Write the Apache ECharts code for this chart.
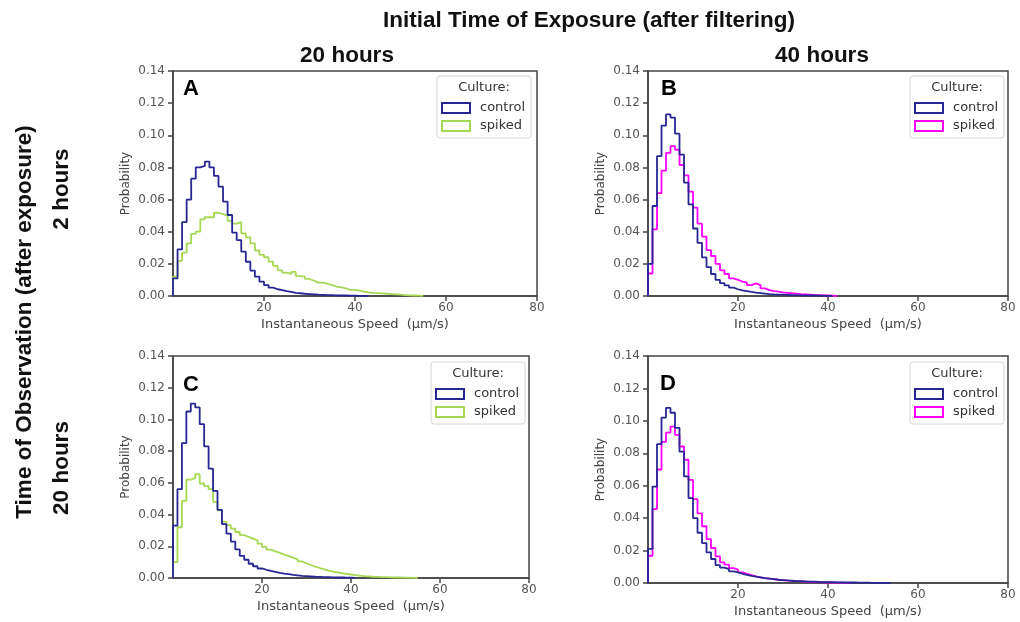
<!DOCTYPE html>
<html>
<head>
<meta charset="utf-8">
<script src="https://cdn.jsdelivr.net/npm/echarts@6/dist/echarts.min.js"></script>
<style>
html,body{margin:0;padding:0;background:#fff;}
#chart{width:1020px;height:622px;}
</style>
</head>
<body>
<div id="chart"></div>
<script>
// ---- data (bin width 1 µm/s, bins start at 0) ----
const binWidth = 1;
const xTickValues = [20, 40, 60, 80];
const panelLetters = ['A', 'B', 'C', 'D'];
const legendTitle = 'Culture:';
const seriesLabels = ['control', 'spiked'];

const controlA = [0.011,0.029,0.046,0.060,0.073,0.080,0.081,0.0836,0.080,0.0747,0.068,0.0587,0.0504,0.0394,0.0348,0.0276,0.0213,0.0158,0.012,0.0089,0.0068,0.0052,0.0042,0.0037,0.003,0.0025,0.002,0.0017,0.0014,0.0012,0.001,0.0008,0.0007,0.0006,0.0005,0.0004,0.0003,0.0003,0.0002,0.0002,0.0001,0.0001,0.0001];
const spikedA = [0.012,0.0218,0.027,0.0328,0.0386,0.040,0.0477,0.049,0.049,0.0518,0.051,0.050,0.0467,0.045,0.046,0.039,0.0365,0.0328,0.0283,0.0256,0.0241,0.0214,0.0187,0.016,0.0145,0.0137,0.015,0.0124,0.012,0.0106,0.0095,0.0083,0.0083,0.0075,0.0068,0.0058,0.0054,0.0048,0.0037,0.004,0.0033,0.0027,0.0023,0.002,0.0018,0.0016,0.0014,0.0012,0.001,0.0008,0.0006,0.0004,0.0003,0.0002,0.0001];
const controlB = [0.020,0.056,0.087,0.106,0.113,0.111,0.101,0.088,0.0705,0.057,0.042,0.033,0.024,0.018,0.0137,0.010,0.008,0.0066,0.0052,0.0042,0.0035,0.003,0.0025,0.0021,0.0018,0.0015,0.0012,0.001,0.0009,0.0008,0.0007,0.0006,0.0005,0.0004,0.0004,0.0003,0.0003,0.0002,0.0002,0.0001,0.0001];
const spikedB = [0.014,0.0415,0.064,0.078,0.089,0.0933,0.091,0.0815,0.075,0.065,0.055,0.045,0.037,0.0286,0.0249,0.020,0.016,0.0137,0.011,0.010,0.0089,0.0083,0.0068,0.0079,0.0068,0.0047,0.0037,0.003,0.0027,0.0023,0.002,0.0017,0.0015,0.0012,0.001,0.0008,0.0006,0.0005,0.0004,0.0003,0.0002,0.0001];
const controlC = [0.033,0.056,0.085,0.105,0.110,0.1076,0.097,0.083,0.069,0.055,0.043,0.034,0.028,0.023,0.018,0.014,0.0115,0.009,0.0074,0.006,0.0052,0.0045,0.0039,0.0033,0.0028,0.0024,0.002,0.0017,0.0014,0.0012,0.001,0.0008,0.0007,0.0006,0.0005,0.0004,0.0003,0.0003,0.0002,0.0002,0.0001];
const spikedC = [0.010,0.032,0.0486,0.062,0.063,0.0655,0.0596,0.058,0.056,0.048,0.0427,0.0354,0.0333,0.0312,0.029,0.027,0.0259,0.0248,0.0238,0.0217,0.0196,0.0179,0.0168,0.0158,0.0148,0.0138,0.0128,0.0118,0.0105,0.0093,0.0082,0.0072,0.0063,0.0055,0.0047,0.0040,0.0035,0.0030,0.0026,0.0022,0.0018,0.0015,0.0012,0.0010,0.0008,0.0007,0.0006,0.0005,0.0004,0.0003,0.0003,0.0002,0.0002,0.0001,0.0001];
const controlD = [0.021,0.0595,0.0856,0.102,0.108,0.105,0.0957,0.081,0.0657,0.0523,0.040,0.031,0.0246,0.0189,0.0148,0.011,0.0095,0.0085,0.0072,0.0066,0.0057,0.005,0.0044,0.0039,0.0035,0.003,0.0027,0.0024,0.002,0.0018,0.0016,0.0014,0.0012,0.0011,0.001,0.0009,0.0008,0.0007,0.0006,0.0005,0.0005,0.0004,0.0004,0.0003,0.0003,0.0003,0.0002,0.0002,0.0002,0.0001,0.0001,0.0001,0.0001,0.0001];
const spikedD = [0.0168,0.0456,0.070,0.087,0.0928,0.0965,0.0913,0.0842,0.076,0.0636,0.0517,0.043,0.035,0.027,0.0216,0.0164,0.0127,0.0113,0.0092,0.0082,0.0066,0.0056,0.0048,0.0041,0.0035,0.003,0.0027,0.0024,0.002,0.0018,0.0015,0.0013,0.0011,0.001,0.0008,0.0007,0.0006,0.0005,0.0004,0.0003,0.0003,0.0002,0.0002,0.0001,0.0001];

const panelData = [
  [controlA, spikedA],
  [controlB, spikedB],
  [controlC, spikedC],
  [controlD, spikedD]
];

// ---- styling / layout ----
const BLUE = '#272793';
const GREEN = '#a6d854';
const MAGENTA = '#ff00ff';
const panelColors = [[BLUE, GREEN], [BLUE, MAGENTA], [BLUE, GREEN], [BLUE, MAGENTA]];
const grids = [
  {left: 173, top: 71, width: 364, height: 225},
  {left: 648, top: 71, width: 360, height: 225},
  {left: 173, top: 356, width: 356, height: 222},
  {left: 648, top: 356, width: 360, height: 227}
];
const legendPos = [
  {left: 437, top: 76},
  {left: 910, top: 76},
  {left: 431, top: 362},
  {left: 910, top: 362}
];
const letterPos = [[183, 89], [661, 89], [183, 385], [660, 384]];

const AX = '#444';
const TICKFONT = 'DejaVu Sans';
const BOLDFONT = '"Liberation Sans", Arial, sans-serif';
const HEAD = 22.5;

function stepData(vals) {
  const d = [[0, 0]];
  vals.forEach((v, i) => d.push([i * binWidth, v]));
  d.push([vals.length * binWidth, 0]);
  return d;
}

const xAxes = [], yAxes = [], series = [], legends = [], graphics = [];
grids.forEach((g, k) => {
  xAxes.push({
    type: 'value', gridIndex: k, min: 0, max: 80, interval: 20,
    name: 'Instantaneous Speed  (µm/s)', nameLocation: 'middle', nameGap: 22,
    nameTextStyle: {fontFamily: TICKFONT, fontSize: 13, color: AX},
    axisLine: {show: true, lineStyle: {color: AX, width: 1.5}},
    axisTick: {show: true, length: 5, lineStyle: {color: AX, width: 1.5}, customValues: xTickValues},
    axisLabel: {fontFamily: TICKFONT, fontSize: 12, color: '#555', margin: 6, customValues: xTickValues},
    splitLine: {show: false}
  });
  yAxes.push({
    type: 'value', gridIndex: k, min: 0, max: 0.14, interval: 0.02,
    name: 'Probability', nameLocation: 'middle', nameGap: 41,
    nameTextStyle: {fontFamily: TICKFONT, fontSize: 12, color: AX},
    axisLine: {show: true, lineStyle: {color: AX, width: 1.5}},
    axisTick: {show: true, length: 5, lineStyle: {color: AX, width: 1.5}},
    axisLabel: {fontFamily: TICKFONT, fontSize: 12, color: '#555', margin: 8,
      formatter: v => v.toFixed(2)},
    splitLine: {show: false}
  });
  const names = [];
  panelData[k].forEach((vals, j) => {
    const nm = seriesLabels[j] + '_' + panelLetters[k];
    names.push({name: nm, icon: 'rect',
      itemStyle: {color: '#fff', borderColor: panelColors[k][j], borderWidth: 2}});
    series.push({
      name: nm, type: 'line', xAxisIndex: k, yAxisIndex: k,
      step: 'end', symbol: 'none', silent: true, animation: false,
      data: stepData(vals),
      lineStyle: {color: panelColors[k][j], width: 1.8},
      itemStyle: {color: panelColors[k][j]},
      z: j === 0 ? 3 : 2
    });
  });
  legends.push({
    orient: 'vertical', left: legendPos[k].left, top: legendPos[k].top,
    data: names, itemWidth: 28, itemHeight: 10, itemGap: 4,
    padding: [25, 6, 5, 4],
    borderColor: '#d6d6d6', borderWidth: 1, borderRadius: 3,
    backgroundColor: 'rgba(255,255,255,0.85)',
    textStyle: {fontFamily: TICKFONT, fontSize: 13, color: '#333', lineHeight: 14, padding: [0, 0, 0, 5]},
    formatter: n => n.split('_')[0],
    selectedMode: false
  });
  graphics.push({
    type: 'text', x: legendPos[k].left + 47, y: legendPos[k].top + 12,
    style: {text: legendTitle, fontFamily: TICKFONT, fontSize: 13, fill: '#333',
      textAlign: 'center', textVerticalAlign: 'middle'},
    z: 100
  });
  graphics.push({
    type: 'text', x: letterPos[k][0], y: letterPos[k][1],
    style: {text: panelLetters[k], fontFamily: BOLDFONT, fontWeight: 'bold', fontSize: 22, fill: '#000',
      textAlign: 'left', textVerticalAlign: 'middle'},
    z: 100
  });
});

// headings
function heading(text, x, y, rot) {
  graphics.push({type: 'text', x: x, y: y, rotation: rot || 0,
    style: {text: text, fontFamily: BOLDFONT, fontWeight: 'bold', fontSize: HEAD, fill: '#111',
      textAlign: 'center', textVerticalAlign: 'middle'}});
}
heading('Initial Time of Exposure (after filtering)', 589, 21);
heading('20 hours', 347, 56);
heading('40 hours', 822, 56);
heading('Time of Observation (after exposure)', 25, 322, Math.PI / 2);
heading('2 hours', 62, 189, Math.PI / 2);
heading('20 hours', 62, 468, Math.PI / 2);

const chart = echarts.init(document.getElementById('chart'), null, {renderer: 'canvas'});
chart.setOption({
  backgroundColor: '#fff',
  animation: false,
  grid: grids.map(g => Object.assign({show: true, borderColor: AX, borderWidth: 1.5, backgroundColor: 'transparent'}, g)),
  xAxis: xAxes,
  yAxis: yAxes,
  legend: legends,
  series: series,
  graphic: graphics
});
</script>
</body>
</html>
